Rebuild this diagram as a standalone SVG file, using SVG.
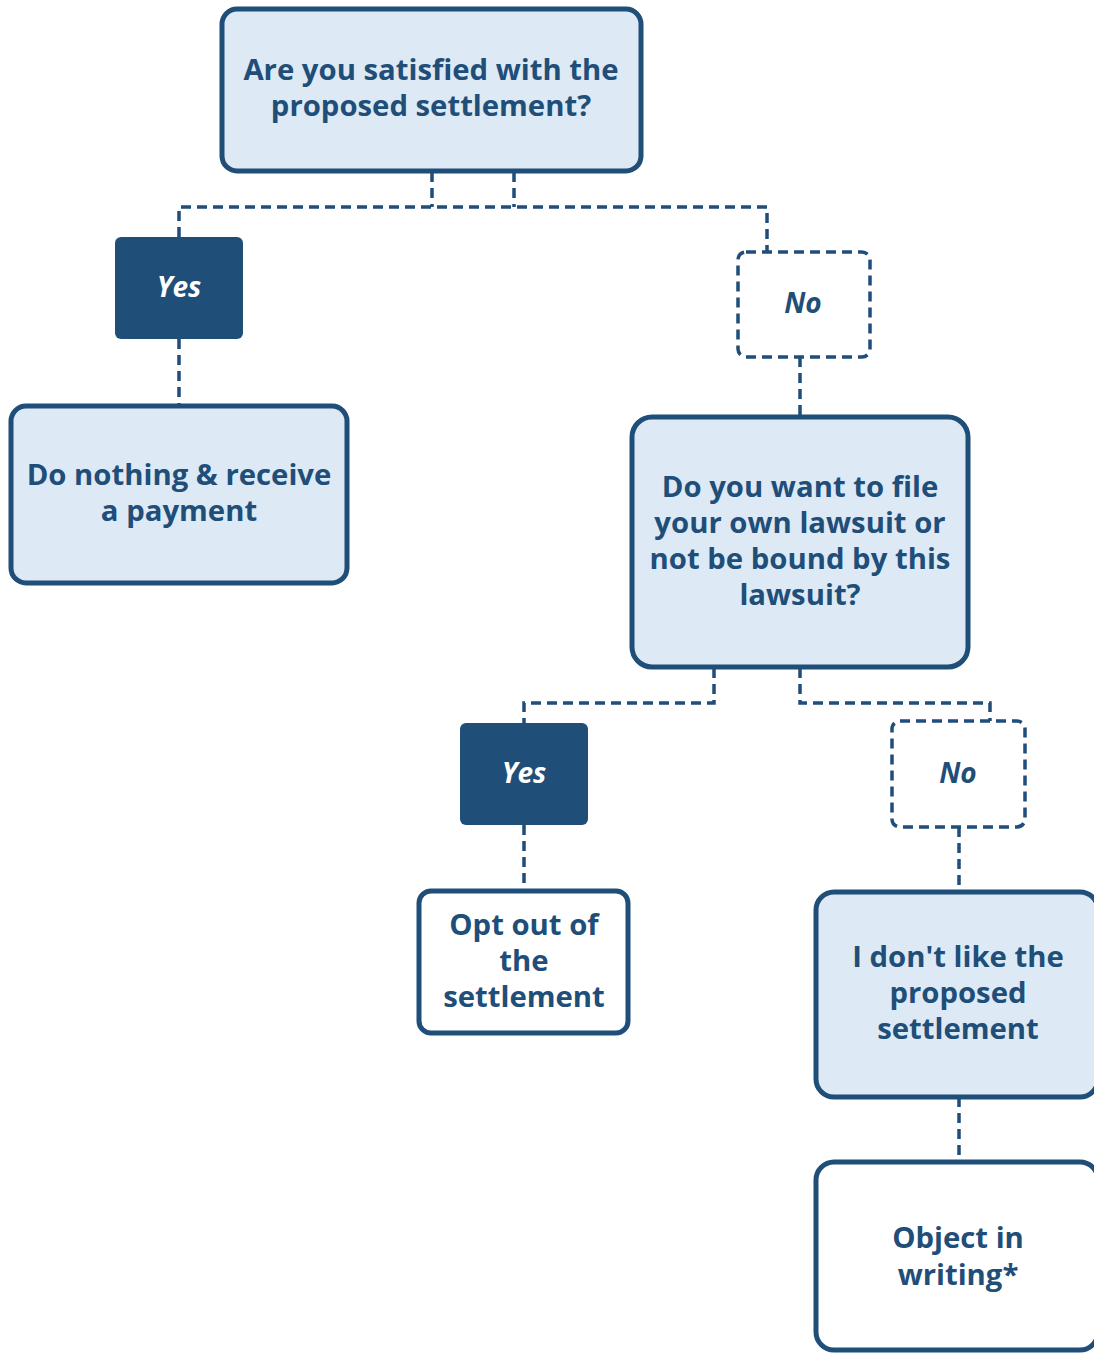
<svg xmlns="http://www.w3.org/2000/svg" width="1094" height="1353" viewBox="0 0 1094 1353">
<style>
.box{fill:#dde9f5;stroke:#1f4e79;stroke-width:5}
.wbox{fill:#ffffff;stroke:#1f4e79;stroke-width:5}
.yes{fill:#1f4e79;stroke:none}
.no{fill:#ffffff;stroke:#1f4e79;stroke-width:3.5;stroke-dasharray:10 6}
.con{fill:none;stroke:#1f4e79;stroke-width:3.5;stroke-dasharray:10 6}
text{font-family:"Open Sans","Liberation Sans",sans-serif;font-weight:700;font-size:29.3px;fill:#1f4e79;text-anchor:middle}
.lbl{font-style:italic;font-size:28px}
.wl{fill:#ffffff}
</style>
<rect width="1094" height="1353" fill="#ffffff"/>
<g id="connectors">
<path class="con" d="M432 172V207M514 172V207M179 237V207H767V252"/>
<path class="con" d="M179 339V406"/>
<path class="con" d="M800 357V416"/>
<path class="con" d="M714 668V703H524V723"/>
<path class="con" d="M800 668V703H990V721"/>
<path class="con" d="M524 825V891"/>
<path class="con" d="M959 827V892"/>
<path class="con" d="M959 1097V1162"/>
</g>
<g id="q1">
<rect class="box" x="222" y="9" width="419" height="162" rx="15"/>
<text x="431" y="80">Are you satisfied with the</text>
<text x="431" y="116">proposed settlement?</text>
</g>
<g id="yes1">
<rect class="yes" x="115" y="237" width="128" height="102" rx="6"/>
<text class="lbl wl" x="179" y="297">Yes</text>
</g>
<g id="no1">
<rect class="no" x="738" y="252" width="132" height="105" rx="8"/>
<text class="lbl" x="803" y="313">No</text>
</g>
<g id="do-nothing">
<rect class="box" x="11" y="406" width="336" height="177" rx="15"/>
<text x="179" y="485">Do nothing &amp; receive</text>
<text x="179" y="521">a payment</text>
</g>
<g id="q2">
<rect class="box" x="632" y="417" width="336" height="250" rx="20"/>
<text x="800" y="497">Do you want to file</text>
<text x="800" y="533">your own lawsuit or</text>
<text x="800" y="569">not be bound by this</text>
<text x="800" y="605">lawsuit?</text>
</g>
<g id="yes2">
<rect class="yes" x="460" y="723" width="128" height="102" rx="6"/>
<text class="lbl wl" x="524" y="783">Yes</text>
</g>
<g id="no2">
<rect class="no" x="892" y="721" width="133" height="106" rx="8"/>
<text class="lbl" x="958" y="783">No</text>
</g>
<g id="opt-out">
<rect class="wbox" x="419" y="891" width="209" height="142" rx="12"/>
<text x="524" y="935">Opt out of</text>
<text x="524" y="971">the</text>
<text x="524" y="1007">settlement</text>
</g>
<g id="dont-like">
<rect class="box" x="816" y="892" width="282" height="205" rx="18"/>
<text x="958" y="967">I don't like the</text>
<text x="958" y="1003">proposed</text>
<text x="958" y="1039">settlement</text>
</g>
<g id="object">
<rect class="wbox" x="816" y="1162" width="282" height="188" rx="18"/>
<text x="958" y="1248">Object in</text>
<text x="958" y="1285">writing*</text>
</g>
</svg>
